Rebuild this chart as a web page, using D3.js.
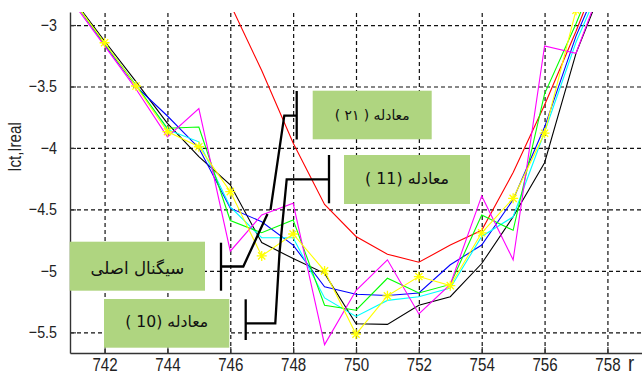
<!DOCTYPE html>
<html>
<head>
<meta charset="utf-8">
<script src="https://cdn.jsdelivr.net/npm/d3@7"></script>
<style>
  body { margin: 0; background: #fff; overflow: hidden; }
  svg { display: block; }
</style>
</head>
<body>
<div id="chart"></div>
<script>
// ===== DATA =====
const sampleIdx = [741, 742, 743, 744, 745, 746, 747, 748, 749, 750, 751, 752, 753, 754, 755, 756, 757, 758];

const originalSig  = [-2.79, -3.13, -3.46, -3.80, -4.07, -4.30, -4.77, -4.90, -5.02, -5.43, -5.435, -5.28, -5.21, -4.94, -4.56, -4.12, -3.23, -2.59];
const eq21Curve    = [null, null, null, null, -2.30, -2.83, -3.37, -3.96, -4.46, -4.72, -4.864, -4.93, -4.79, -4.67, -4.20, -3.65, -3.05, -2.41];
const blueCurve    = [-2.80, -3.16, -3.50, -3.74, -4.00, -4.49, -4.60, -4.79, -5.13, -5.19, -5.20, -5.18, -4.95, -4.79, -4.42, -3.83, -3.09, -2.50];
const cyanCurve    = [-2.80, -3.15, -3.49, -3.85, -3.95, -4.48, -4.73, -4.73, -5.22, -5.37, -5.24, -5.21, -5.14, -4.72, -4.56, -3.87, -3.14, -2.55];
const greenCurve   = [-2.80, -3.15, -3.49, -3.84, -3.83, -4.59, -4.69, -4.585, -5.28, -5.32, -5.06, -5.18, -5.11, -4.545, -4.67, -3.56, -2.99, -2.36];
const magentaCurve = [-2.82, -3.17, -3.52, -3.91, -3.68, -4.84, -4.545, -4.45, -5.60, -5.16, -4.91, -5.35, -5.11, -4.39, -4.91, -3.17, -3.23, -2.55];
const yellowCurve  = [-2.80, -3.144, -3.496, -3.867, -3.99, -4.355, -4.878, -4.70, -5.00, -5.515, -5.203, -5.046, -5.12, -4.69, -4.41, -3.88, -2.88, -2.30];

const xTicks = [742, 744, 746, 748, 750, 752, 754, 756, 758];
const yTicks = [-3, -3.5, -4, -4.5, -5, -5.5];

// draw order: later ones sit on top
const series = [
  { vals: originalSig,  color: "#000000" },
  { vals: eq21Curve,    color: "#ff0000" },
  { vals: blueCurve,    color: "#0000ff" },
  { vals: cyanCurve,    color: "#00ffff" },
  { vals: greenCurve,   color: "#00ff00" },
  { vals: magentaCurve, color: "#ff00ff" },
  { vals: yellowCurve,  color: "#ffff00", stars: true }
];

// ===== LAYOUT =====
const W = 642, H = 377;
const plot = { left: 70, top: 12, right: 642, bottom: 353 };

const svg = d3.select("#chart")
  .append("svg")
  .attr("width", W)
  .attr("height", H);

const x = d3.scaleLinear()
  .domain([740.9, 759.1])
  .range([plot.left, plot.right]);

const y = d3.scaleLinear()
  .domain([-5.668, -2.894])
  .range([plot.bottom, plot.top]);

svg.append("clipPath")
  .attr("id", "plotClip")
  .append("rect")
  .attr("x", plot.left)
  .attr("y", plot.top)
  .attr("width", plot.right - plot.left)
  .attr("height", plot.bottom - plot.top);

// ===== GRID =====
const gridX = svg.append("g")
  .attr("transform", `translate(0,${plot.bottom})`)
  .call(d3.axisBottom(x).tickValues(xTicks).tickSize(-(plot.bottom - plot.top)).tickFormat(""));
const gridY = svg.append("g")
  .attr("transform", `translate(${plot.left},0)`)
  .call(d3.axisLeft(y).tickValues(yTicks).tickSize(-(plot.right - plot.left)).tickFormat(""));
[gridX, gridY].forEach(g => {
  g.select(".domain").remove();
  g.selectAll("line")
    .attr("stroke", "#111")
    .attr("stroke-width", 1.2)
    .attr("stroke-dasharray", "4,3");
});

// ===== AXES =====
const sx = 0.84; // tick labels look a bit condensed

const xAxis = svg.append("g")
  .attr("transform", `translate(0,${plot.bottom})`)
  .call(d3.axisBottom(x).tickValues(xTicks).tickSizeInner(-6).tickSizeOuter(0).tickPadding(5));
xAxis.selectAll("text")
  .attr("transform", `scale(${sx},1)`)
  .style("font-family", "'Liberation Sans', Arial, sans-serif")
  .style("font-size", "18px")
  .attr("fill", "#222");

const yAxis = svg.append("g")
  .attr("transform", `translate(${plot.left},0)`)
  .call(d3.axisLeft(y).tickValues(yTicks).tickSizeInner(-6).tickSizeOuter(0).tickPadding(13).tickFormat(d3.format("")));
yAxis.selectAll("text")
  .attr("x", -13 / sx)
  .attr("transform", `scale(${sx},1)`)
  .style("font-family", "'Liberation Sans', Arial, sans-serif")
  .style("font-size", "17px")
  .attr("fill", "#222");

[xAxis, yAxis].forEach(g => {
  g.select(".domain").attr("stroke", "#333").attr("stroke-width", 1.4);
  g.selectAll(".tick line").attr("stroke", "#333").attr("stroke-width", 1.2);
});

// axis titles
svg.append("text")
  .attr("transform", `translate(21,147) rotate(-90) scale(${sx},1)`)
  .attr("text-anchor", "middle")
  .style("font-family", "'Liberation Sans', Arial, sans-serif")
  .style("font-size", "18px")
  .attr("fill", "#222")
  .text("Ict,Ireal");

// x title is mostly outside the frame, only its first letter shows
svg.append("text")
  .attr("transform", `translate(628,371) scale(${sx},1)`)
  .style("font-family", "'Liberation Sans', Arial, sans-serif")
  .style("font-size", "22px")
  .attr("fill", "#222")
  .text("r");

// ===== CURVES =====
const curves = svg.append("g").attr("clip-path", "url(#plotClip)");

const line = d3.line()
  .defined(d => d[1] !== null)
  .x(d => x(d[0]))
  .y(d => y(d[1]));

series.forEach(s => {
  const pts = sampleIdx.map((v, i) => [v, s.vals[i]]);
  curves.append("path")
    .datum(pts)
    .attr("fill", "none")
    .attr("stroke", s.color)
    .attr("stroke-width", 1.1)
    .attr("d", line);

  if (s.stars) {
    curves.selectAll(null)
      .data(pts.filter(d => d[1] !== null))
      .enter()
      .append("path")
      .attr("transform", d => `translate(${x(d[0])},${y(d[1])})`)
      .attr("d", "M-5,0H5M0,-5V5M-3.6,-3.6L3.6,3.6M-3.6,3.6L3.6,-3.6")
      .attr("stroke", s.color)
      .attr("stroke-width", 1.3)
      .attr("fill", "none");
  }
});

// ===== CALLOUTS =====
const calloutGreen = "#afd580";

const leaders = [
  [[296.7, 91], [296.7, 139.5]],
  [[296.7, 115.7], [284.3, 115.7], [270.5, 210]],
  [[221, 242.7], [221, 290.7]],
  [[221, 266.5], [243.3, 266.5], [267.5, 214]],
  [[329, 155], [329, 203.3]],
  [[329, 179.3], [286.7, 179.3], [279.5, 253], [275.3, 323.3], [245.7, 323.3]],
  [[245.7, 299.3], [245.7, 340]]
];

const leaderLine = d3.line();
svg.append("g")
  .selectAll("path")
  .data(leaders)
  .enter()
  .append("path")
  .attr("d", leaderLine)
  .attr("fill", "none")
  .attr("stroke", "#000")
  .attr("stroke-width", 2.3)
  .attr("stroke-linejoin", "miter");

const boxes = [
  { x: 312.7, y: 90.7, w: 119, h: 48.6, label: "معادله ( ۲۱ )", tw: 75, ty: 115 },
  { x: 344, y: 155, w: 126, h: 49, label: "معادله (11 )", tw: 84, ty: 178 },
  { x: 69.7, y: 241.7, w: 135.3, h: 49, label: "سیگنال اصلی", tw: 94, ty: 268 },
  { x: 104, y: 299, w: 125.3, h: 48.7, label: "معادله (10 )", tw: 83, ty: 321 }
];

const boxG = svg.append("g")
  .selectAll("g")
  .data(boxes)
  .enter()
  .append("g");

boxG.append("rect")
  .attr("x", d => d.x)
  .attr("y", d => d.y)
  .attr("width", d => d.w)
  .attr("height", d => d.h)
  .attr("fill", calloutGreen);

boxG.append("text")
  .attr("x", d => d.x + d.w / 2)
  .attr("y", d => d.ty)
  .attr("direction", "rtl")
  .attr("text-anchor", "middle")
  .attr("dominant-baseline", "central")
  .style("font-family", "'DejaVu Sans', 'Noto Sans', sans-serif")
  .style("font-size", "16px")
  .attr("fill", "#111")
  .text(d => d.label)
  .each(function(d) {
    // fit the label to the width it has in the picture
    const len = this.getComputedTextLength();
    if (len > 0) d3.select(this).style("font-size", (16 * d.tw / len).toFixed(2) + "px");
  });
</script>
</body>
</html>
